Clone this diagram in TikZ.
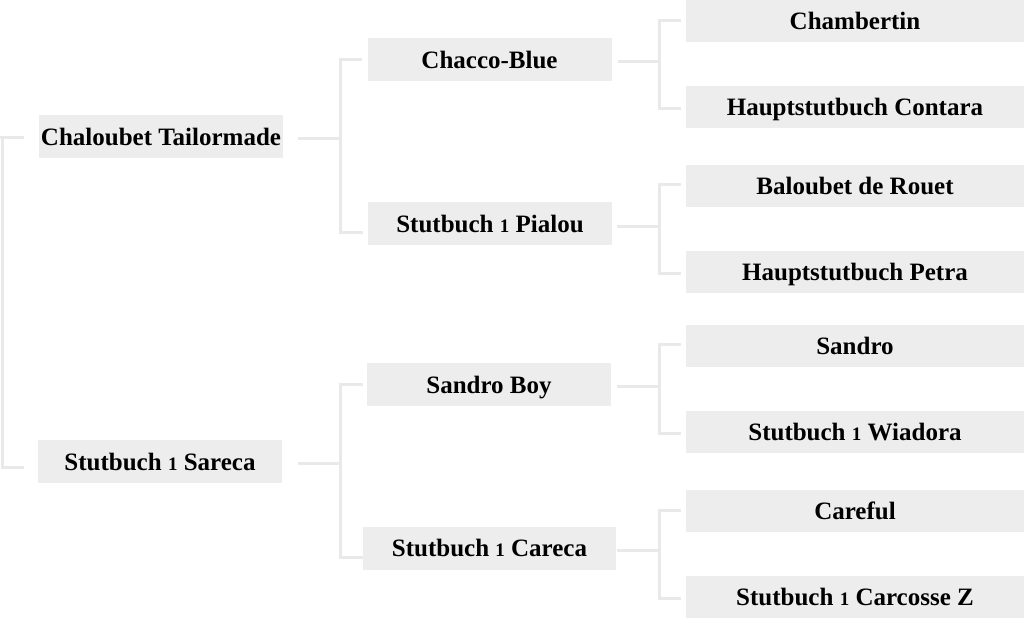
\documentclass[tikz,border=0pt]{standalone}
\usepackage{fontspec}
\setmainfont{Liberation Serif}
\definecolor{boxgray}{RGB}{237,237,237}
\definecolor{linegray}{RGB}{233,233,233}
\newcommand\oldone{{\fontsize{19pt}{19pt}\selectfont 1}}
\begin{document}
\begin{tikzpicture}[x=1pt,y=-1pt,
  horse/.style={fill=boxgray, inner sep=0pt, minimum height=43pt, text height=17pt, text depth=0pt,
    font=\fontsize{25pt}{30pt}\selectfont\bfseries, text=black},
  gone/.style={horse, minimum width=244pt},
  gtwo/.style={horse, minimum width=244pt},
  gthree/.style={horse, minimum width=338pt, minimum height=42pt},
  conn/.style={draw=linegray, line width=3pt}]
\useasboundingbox (0,0) rectangle (1024,619);
% generation 1
\node[gone] (g1a) at (161,136.5) {Chaloubet Tailormade};
\node[gone] (g1b) at (160,461.5) {Stutbuch \oldone{} Sareca};
% generation 2
\node[gtwo] (g2a) at (489.5,59.5) {Chacco-Blue};
\node[gtwo] (g2b) at (490,223.5) {Stutbuch \oldone{} Pialou};
\node[gtwo] (g2c) at (489,384.5) {Sandro Boy};
\node[gtwo, minimum width=253pt] (g2d) at (489.5,548) {Stutbuch \oldone{} Careca};
% generation 3
\node[gthree] (g3a) at (855,21) {Chambertin};
\node[gthree] (g3b) at (855,107) {Hauptstutbuch Contara};
\node[gthree] (g3c) at (855,186) {Baloubet de Rouet};
\node[gthree] (g3d) at (855,271.5) {Hauptstutbuch Petra};
\node[gthree] (g3e) at (855,346) {Sandro};
\node[gthree] (g3f) at (855,432) {Stutbuch \oldone{} Wiadora};
\node[gthree] (g3g) at (855,511) {Careful};
\node[gthree] (g3h) at (855,597) {Stutbuch \oldone{} Carcosse Z};
% joints
\coordinate (j0) at (2,300);
\coordinate (j1) at (340,138);
\coordinate (j2) at (340,463);
\coordinate (k1) at (659,61);
\coordinate (k2) at (659,226);
\coordinate (k3) at (659,386);
\coordinate (k4) at (659,550);
% root bracket (root off to the left)
\draw[conn] (0,137) -- ([xshift=-15pt,yshift=-0.5pt]g1a.west);
\draw[conn] ([xshift=-15pt,yshift=-0.5pt]g1a.west) -| (j0) |- ([xshift=-14pt,yshift=-5.5pt]g1b.west);
% gen1 -> gen2
\draw[conn] ([xshift=15pt,yshift=-1.5pt]g1a.east) -- (j1);
\draw[conn] ([xshift=-5pt,yshift=0.5pt]g2a.west) -| (j1) |- ([xshift=-5pt,yshift=-8.5pt]g2b.west);
\draw[conn] ([xshift=16pt,yshift=-1.5pt]g1b.east) -- (j2);
\draw[conn] ([xshift=-4pt,yshift=0.5pt]g2c.west) -| (j2) |- ([xshift=0pt,yshift=-9pt]g2d.west);
% gen2 -> gen3
\draw[conn] ([xshift=6pt,yshift=-1.5pt]g2a.east) -- (k1);
\draw[conn] ([xshift=-5pt,yshift=1pt]g3a.west) -| (k1) |- ([xshift=-5pt,yshift=-1pt]g3b.west);
\draw[conn] ([xshift=5pt,yshift=-2.5pt]g2b.east) -- (k2);
\draw[conn] ([xshift=-5pt,yshift=2pt]g3c.west) -| (k2) |- ([xshift=-5pt,yshift=-1.5pt]g3d.west);
\draw[conn] ([xshift=6pt,yshift=-1.5pt]g2c.east) -- (k3);
\draw[conn] ([xshift=-5pt,yshift=2pt]g3e.west) -| (k3) |- ([xshift=-5pt,yshift=-1pt]g3f.west);
\draw[conn] ([xshift=1pt,yshift=-2pt]g2d.east) -- (k4);
\draw[conn] ([xshift=-5pt,yshift=1pt]g3g.west) -| (k4) |- ([xshift=-5pt,yshift=-1pt]g3h.west);
\end{tikzpicture}
\end{document}
